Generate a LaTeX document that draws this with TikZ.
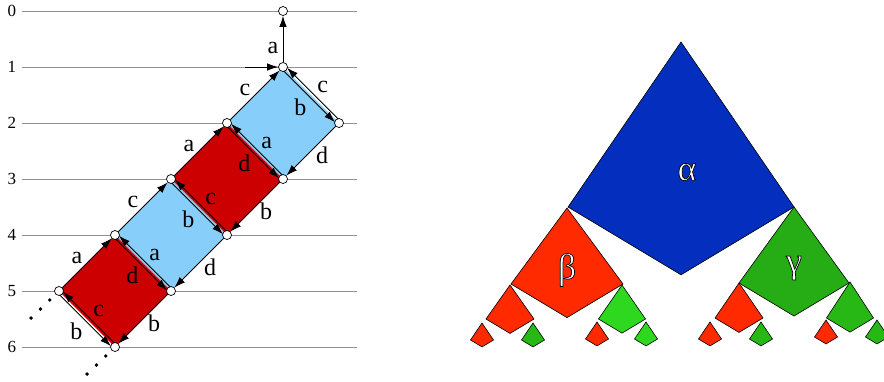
\documentclass[tikz,border=0pt]{standalone}
\usepackage{fontspec}
\setmainfont{Liberation Serif}
\usetikzlibrary{arrows.meta, calc, backgrounds}

\definecolor{skyfill}{RGB}{135,206,250}
\definecolor{redfill}{RGB}{204,0,0}
\definecolor{alphablue}{RGB}{4,46,190}
\definecolor{betared}{RGB}{255,42,0}
\definecolor{gammagreen}{RGB}{38,172,20}
\definecolor{midgreen}{RGB}{40,184,22}
\definecolor{lightgreen}{RGB}{46,216,30}

% offset of the two arrows on a shared edge
\newcommand{\offs}{2.3pt}
\newcommand{\pairarrow}[4]{%
  \draw[arr, shorten <=3.5pt, shorten >=3.5pt] ($(#1.center)!\offs!270:(#2.center)$) -- node[#3] {#4} ($(#2.center)!\offs!90:(#1.center)$);}
% kite: top x, top y, half width, drop of side corners, colour
\newcommand{\kite}[5]{%
  \filldraw[fill=#5, draw=black, line width=0.6pt] (#1,#2) -- ++(-#3,#4) -- ++(#3,0.6*#3) -- ++(#3,-0.6*#3) -- cycle;}
% outlined letters
\newcommand{\outl}[1]{\special{pdf:literal direct 0 G 2 Tr 0.7 w}#1\special{pdf:literal direct 0 Tr}}

\begin{document}
\begin{tikzpicture}[x=1pt, y=-1pt,
    vtx/.style={circle, draw, fill=white, minimum size=9pt, inner sep=0pt, line width=0.7pt},
    arr/.style={-{Latex[length=11pt, width=7.5pt]}, line width=0.8pt},
    level/.style={draw=gray!85, line width=0.8pt},
    digit/.style={font=\fontsize{17}{17}\selectfont, inner sep=0pt},
    lab/.style={font=\fontsize{24}{24}\selectfont, inner sep=0pt},
    lab nw/.style={lab, shift={(-10,-5)}},
    lab se/.style={lab, shift={(11,4)}},
    lab sw/.style={lab, shift={(-9,11)}},
    lab ne/.style={lab, shift={(10,-6)}},
    lab w/.style={lab, shift={(-10,0)}},
    greek/.style={font=\fontsize{36}{36}\selectfont, text=white, inner sep=0pt}]
\useasboundingbox (0,0) rectangle (884,381);

% level numbers
\foreach \i in {0,...,6}
  \node[digit] (d\i) at (12,{11+56*\i}) {\i};

% vertices
\node[vtx] (n0) at (283,11) {};
\node[vtx] (n1) at (283,67) {};
\node[vtx] (n2l) at (227,123) {};
\node[vtx] (n2r) at (339,123) {};
\node[vtx] (n3l) at (171,179) {};
\node[vtx] (n3r) at (283,179) {};
\node[vtx] (n4l) at (115,235) {};
\node[vtx] (n4r) at (227,235) {};
\node[vtx] (n5l) at (59,291) {};
\node[vtx] (n5r) at (171,291) {};
\node[vtx] (n6) at (115,347) {};
\coordinate (in1) at (245,67);

\begin{scope}[on background layer]
  \foreach \i in {0,...,6}
    \draw[level] (22,{11+56*\i}) -- (357,{11+56*\i});
  \fill[skyfill] (n1.center) -- (n2r.center) -- (n3r.center) -- (n2l.center) -- cycle;
  \fill[redfill] (n2l.center) -- (n3r.center) -- (n4r.center) -- (n3l.center) -- cycle;
  \fill[skyfill] (n3l.center) -- (n4r.center) -- (n5r.center) -- (n4l.center) -- cycle;
  \fill[redfill] (n4l.center) -- (n5r.center) -- (n6.center) -- (n5l.center) -- cycle;
\end{scope}

% top
\draw[arr] (in1) -- (n1);
\draw[arr] (n1) -- node[pos=0.3, lab w] {a} (n0);

% first blue square
\draw[arr] (n2l) -- node[lab nw] {c} (n1);
\pairarrow{n1}{n2r}{lab sw}{b}
\pairarrow{n2r}{n1}{lab ne}{c}
\draw[arr] (n2r) -- node[lab se] {d} (n3r);
\pairarrow{n3r}{n2l}{lab ne}{a}

% first red square
\draw[arr] (n3l) -- node[lab nw] {a} (n2l);
\pairarrow{n2l}{n3r}{lab sw}{d}
\draw[arr] (n3r) -- node[lab se] {b} (n4r);
\pairarrow{n4r}{n3l}{lab ne}{c}

% second blue square
\draw[arr] (n4l) -- node[lab nw] {c} (n3l);
\pairarrow{n3l}{n4r}{lab sw}{b}
\draw[arr] (n4r) -- node[lab se] {d} (n5r);
\pairarrow{n5r}{n4l}{lab ne}{a}

% second red square
\draw[arr] (n5l) -- node[lab nw] {a} (n4l);
\pairarrow{n4l}{n5r}{lab sw}{d}
\draw[arr] (n5r) -- node[lab se] {b} (n6);
\pairarrow{n6}{n5l}{lab ne}{c}
\pairarrow{n5l}{n6}{lab sw}{b}

% continuation dots
\foreach \k in {1,2,3} {
  \fill ($(n5l.center)+({-9.3*\k},{9*\k})$) circle (1.9);
  \fill ($(n6.center)+({-9.3*\k},{9*\k})$) circle (1.9);
}

% tree of kites
\kite{681}{42}{113}{165}{alphablue}
\kite{567}{208}{56}{76}{betared}
\kite{794}{207}{55}{76}{gammagreen}
\kite{510}{285}{24}{34}{betared}
\kite{622}{285}{23.5}{34}{lightgreen}
\kite{739}{283}{24}{35}{betared}
\kite{850}{282}{23.5}{36}{midgreen}
\foreach \x/\y/\c in {482/323/betared, 533/323/midgreen, 597/322/betared, 646/322/lightgreen,
                      710/322/betared, 761/322/midgreen, 826/320/betared, 877/320/midgreen} {
  \kite{\x}{\y}{11.5}{17}{\c}
}

\node[greek] (alpha) at (687,172) {\outl{α}};
\node[greek] (beta) at (567,270) {\outl{β}};
\node[greek] (gamma) at (794,268) {\outl{γ}};
\end{tikzpicture}
\end{document}
